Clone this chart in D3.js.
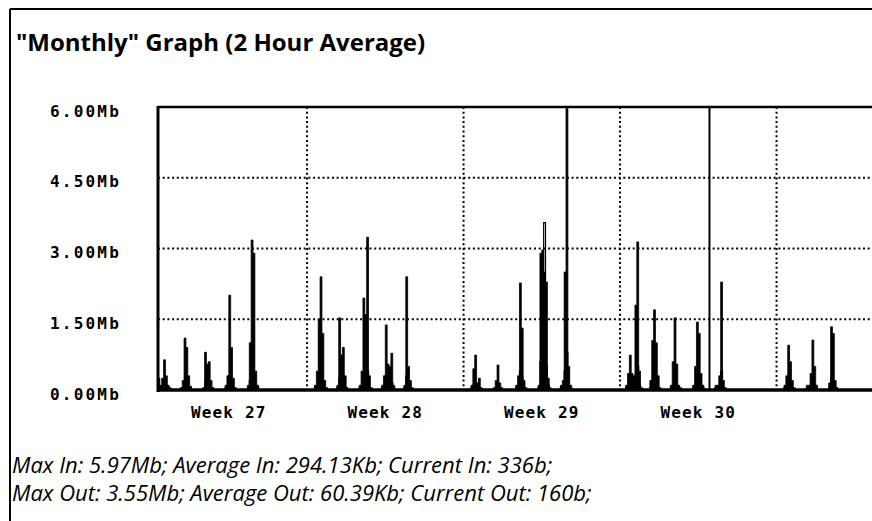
<!DOCTYPE html>
<html>
<head>
<meta charset="utf-8">
<script src="https://cdn.jsdelivr.net/npm/d3@7/dist/d3.min.js"></script>
<style>
  html, body { margin: 0; padding: 0; background: #ffffff; }
  svg { display: block; }
</style>
</head>
<body>
<svg id="chart" width="872" height="521"></svg>
<script>
// ---------------- DATA ----------------
const titleText = '"Monthly" Graph (2 Hour Average)';
const yTickValues = [0, 1.5, 3, 4.5, 6];
const yTickLabels = ["0.00Mb", "1.50Mb", "3.00Mb", "4.50Mb", "6.00Mb"];
const weekLabels = ["Week 27", "Week 28", "Week 29", "Week 30"];
const weekLabelHours = [-84, 84, 252, 420];      // middle of each week
const weekGridHours = [0, 168, 336, 504];        // week boundaries
const monthMarkerHour = 432;                     // vertical marker line
const firstDayHour = -168;                       // start of first day row
const hoursPerSample = 2;                        // 2 hour average
const footerLines = [
  "Max In: 5.97Mb; Average In: 294.13Kb; Current In: 336b;",
  "Max Out: 3.55Mb; Average Out: 60.39Kb; Current Out: 160b;"
];

// In traffic (Mb), one row per day, 12 two-hour samples per row
const inDays = [
  [0,0,0,0,0.25,0.1,0.25,0.64,0.3,0.1,0.05,0],     // wk27 Mon
  [0,0,0,0,0.05,0.2,1.10,0.9,0.3,0.08,0,0],        // Tue
  [0,0,0,0,0.05,0.8,0.55,0.6,0.2,0.05,0,0],        // Wed
  [0,0,0,0,0.1,0.3,2.01,0.9,0.25,0.05,0,0],        // Thu
  [0,0,0,0,0.1,1.0,3.18,2.9,0.4,0.1,0,0],          // Fri
  [0,0,0,0,0,0,0,0,0,0,0,0],                       // Sat
  [0,0,0,0,0,0,0,0,0,0,0,0],                       // Sun
  [0,0,0,0,0.1,0.4,1.5,2.40,1.2,0.2,0.05,0],       // wk28 Mon
  [0,0,0,0,0.1,1.53,0.75,0.9,0.3,0.05,0,0],        // Tue
  [0,0,0,0,0.1,0.4,1.95,1.6,3.24,0.3,0.05,0],      // Wed
  [0,0,0,0,0.1,0.3,1.38,0.55,0.5,0.78,0.1,0],      // Thu
  [0,0,0,0,0.1,2.40,0.5,0.2,0.05,0,0,0],           // Fri
  [0,0,0,0,0,0,0,0,0,0,0,0],
  [0,0,0,0,0,0,0,0,0,0,0,0],
  [0,0,0,0,0.1,0.45,0.74,0.15,0.25,0.05,0,0],      // wk29 Mon
  [0,0,0,0,0.05,0.2,0.53,0.15,0.05,0,0,0],         // Tue
  [0,0,0,0,0.1,0.3,2.27,1.31,0.2,0.05,0,0],        // Wed
  [0,0,0,0,0.1,2.9,2.97,2.5,2.29,0.25,0.05,0],     // Thu
  [0,0,0,0,0.1,0.2,2.5,5.97,0.5,0.1,0,0],          // Fri
  [0,0,0,0,0,0,0,0,0,0,0,0],
  [0,0,0,0,0,0,0,0,0,0,0,0],
  [0,0,0,0.1,0.35,0.74,0.35,0.3,1.8,3.14,0.4,0.05],// wk30 Mon
  [0,0,0,0,0.2,1.05,1.70,1.0,0.3,0.05,0,0],        // Tue
  [0,0,0,0.1,0.6,1.53,0.55,0.1,0.05,0,0,0],        // Wed
  [0,0,0,0.1,0.5,1.44,1.2,0.35,0.1,0,0,0],         // Thu
  [0,0,0,0.1,0.1,0.3,2.29,0.2,0.05,0,0,0],         // Fri
  [0,0,0,0,0,0,0,0,0,0,0,0],
  [0,0,0,0,0,0,0,0,0,0,0,0],
  [0,0,0,0,0.1,0.3,0.95,0.6,0.2,0.05,0,0],         // wk31 Mon
  [0,0,0,0,0.1,0.1,0.35,1.06,0.5,0.1,0,0],         // Tue
  [0,0,0,0,0.15,1.34,1.2,0.2,0.05,0,0,0],          // Wed
  [0,0,0,0,0,0,0,0,0,0,0,0],
  [0,0,0,0,0,0,0,0,0,0,0,0]
];

// Out traffic (Mb), same layout
const outDays = [
  [0,0,0,0,0.05,0.05,0.1,0.15,0.1,0.05,0,0],
  [0,0,0,0,0.02,0.05,0.2,0.15,0.05,0.02,0,0],
  [0,0,0,0,0.02,0.15,0.1,0.1,0.05,0,0,0],
  [0,0,0,0,0.05,0.1,0.3,0.2,0.05,0,0,0],
  [0,0,0,0,0.05,0.2,0.4,0.3,0.1,0.05,0,0],
  [0,0,0,0,0,0,0,0,0,0,0,0],
  [0,0,0,0,0,0,0,0,0,0,0,0],
  [0,0,0,0,0.05,0.1,0.3,0.35,0.2,0.05,0,0],
  [0,0,0,0,0.05,0.25,0.15,0.15,0.05,0,0,0],
  [0,0,0,0,0.05,0.1,0.3,0.25,0.4,0.05,0,0],
  [0,0,0,0,0.05,0.1,0.2,0.1,0.1,0.15,0.05,0],
  [0,0,0,0,0.05,0.3,0.1,0.05,0,0,0,0],
  [0,0,0,0,0,0,0,0,0,0,0,0],
  [0,0,0,0,0,0,0,0,0,0,0,0],
  [0,0,0,0,0.05,0.1,0.15,0.05,0.05,0,0,0],
  [0,0,0,0,0.02,0.05,0.1,0.05,0,0,0,0],
  [0,0,0,0,0.05,0.1,0.4,0.25,0.05,0,0,0],
  [0,0,0,0,0.05,0.6,1.0,3.55,0.5,0.1,0,0],
  [0,0,0,0,0.05,0.05,0.4,0.8,0.1,0.05,0,0],
  [0,0,0,0,0,0,0,0,0,0,0,0],
  [0,0,0,0,0,0,0,0,0,0,0,0],
  [0,0,0,0.05,0.1,0.15,0.1,0.1,0.3,0.5,0.1,0],
  [0,0,0,0,0.05,0.2,0.3,0.2,0.05,0,0,0],
  [0,0,0,0.05,0.1,0.3,0.1,0.05,0,0,0,0],
  [0,0,0,0.05,0.1,0.25,0.2,0.1,0.05,0,0,0],
  [0,0,0,0.05,0.05,0.1,0.4,0.05,0,0,0,0],
  [0,0,0,0,0,0,0,0,0,0,0,0],
  [0,0,0,0,0,0,0,0,0,0,0,0],
  [0,0,0,0,0.05,0.1,0.2,0.1,0.05,0,0,0],
  [0,0,0,0,0.05,0.05,0.1,0.2,0.1,0.05,0,0],
  [0,0,0,0,0.05,0.25,0.2,0.05,0,0,0,0],
  [0,0,0,0,0,0,0,0,0,0,0,0],
  [0,0,0,0,0,0,0,0,0,0,0,0]
];

// ---------------- CHART ----------------
const svg = d3.select("#chart");
const plot = { left: 158, top: 107, bottom: 390, right: 885 };

const x = d3.scaleLinear()
  .domain([-160, 620])
  .range([plot.left, plot.left + 780 * (156.5 / 168)]);
const y = d3.scaleLinear().domain([0, 6]).range([plot.bottom, plot.top]);

function toSeries(days) {
  const pts = [];
  days.forEach((row, d) => row.forEach((v, s) => {
    pts.push({ h: firstDayHour + d * 24 + s * hoursPerSample + hoursPerSample / 2, v });
  }));
  return pts;
}
const inSeries = toSeries(inDays);
const outSeries = toSeries(outDays);

// outer frame (left and top borders of the scanned page)
svg.append("line").attr("x1", 10).attr("x2", 10).attr("y1", 9).attr("y2", 521)
  .attr("stroke", "#000").attr("stroke-width", 2);
svg.append("line").attr("x1", 10).attr("x2", 872).attr("y1", 9).attr("y2", 9)
  .attr("stroke", "#000").attr("stroke-width", 2);

// title
svg.append("text").attr("x", 16).attr("y", 51)
  .attr("font-family", "'Open Sans', sans-serif").attr("font-weight", 700)
  .attr("font-size", 24).attr("fill", "#000").text(titleText);

// clip
svg.append("clipPath").attr("id", "clip").append("rect")
  .attr("x", plot.left).attr("y", plot.top - 2)
  .attr("width", plot.right - plot.left).attr("height", plot.bottom - plot.top + 4);

const dotStyle = g => g.attr("stroke", "#000").attr("stroke-width", 2).attr("stroke-dasharray", "2,2.7");

// horizontal dotted grid
svg.append("g").selectAll("line")
  .data(yTickValues.filter(v => v > 0 && v < 6)).join("line")
  .attr("x1", plot.left).attr("x2", 872)
  .attr("y1", d => y(d)).attr("y2", d => y(d))
  .call(dotStyle);

// vertical dotted grid (week boundaries)
svg.append("g").selectAll("line")
  .data(weekGridHours).join("line")
  .attr("x1", d => x(d)).attr("x2", d => x(d))
  .attr("y1", plot.top).attr("y2", plot.bottom)
  .call(dotStyle);

// In area
const area = d3.area().curve(d3.curveStep)
  .x(d => x(d.h)).y0(y(0)).y1(d => y(d.v));
svg.append("path").datum(inSeries).attr("clip-path", "url(#clip)")
  .attr("d", area).attr("fill", "#000").attr("stroke", "#000").attr("stroke-width", 0.8);

// Out line
const line = d3.line().curve(d3.curveStep).x(d => x(d.h)).y(d => y(d.v));
svg.append("path").datum(outSeries).attr("clip-path", "url(#clip)")
  .attr("d", line).attr("fill", "none").attr("stroke", "#000").attr("stroke-width", 1.2);

// month marker line
svg.append("line")
  .attr("x1", x(monthMarkerHour)).attr("x2", x(monthMarkerHour))
  .attr("y1", plot.top).attr("y2", plot.bottom)
  .attr("stroke", "#000").attr("stroke-width", 2);

// frame: top, left axis, bottom axis
svg.append("line").attr("x1", plot.left).attr("x2", 872).attr("y1", y(6)).attr("y2", y(6))
  .attr("stroke", "#000").attr("stroke-width", 2.5);
svg.append("line").attr("x1", plot.left).attr("x2", plot.left).attr("y1", y(6) - 1).attr("y2", y(0) + 2)
  .attr("stroke", "#000").attr("stroke-width", 3);
svg.append("line").attr("x1", plot.left - 1).attr("x2", 872).attr("y1", y(0)).attr("y2", y(0))
  .attr("stroke", "#000").attr("stroke-width", 3.5);

// y axis labels via d3 axis
const yAxis = d3.axisLeft(y).tickValues(yTickValues)
  .tickFormat((d, i) => yTickLabels[i]).tickSize(0).tickPadding(0);
const yg = svg.append("g").attr("transform", "translate(121,4)").call(yAxis);
yg.select(".domain").remove();
yg.selectAll("text")
  .attr("font-family", "'DejaVu Sans Mono', monospace").attr("font-weight", 700)
  .attr("font-size", 16).attr("letter-spacing", 2.2).attr("fill", "#000");

// week labels
svg.append("g").selectAll("text").data(weekLabels).join("text")
  .attr("x", (d, i) => x(weekLabelHours[i])).attr("y", 418)
  .attr("text-anchor", "middle")
  .attr("font-family", "'DejaVu Sans Mono', monospace").attr("font-weight", 700)
  .attr("font-size", 16).attr("letter-spacing", 1.2).attr("fill", "#000")
  .text(d => d);

// footer
svg.append("g").selectAll("text").data(footerLines).join("text")
  .attr("x", 12).attr("y", (d, i) => 473 + i * 28)
  .attr("font-family", "'Open Sans', sans-serif").attr("font-style", "italic")
  .attr("font-size", 22).attr("fill", "#000")
  .text(d => d);
</script>
</body>
</html>
